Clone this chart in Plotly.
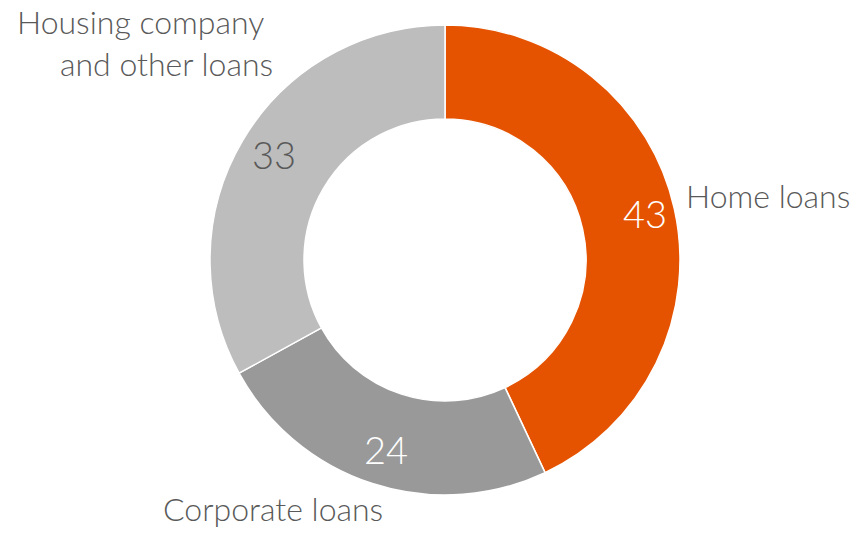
import math
import plotly.graph_objects as go

labels = ["Home loans", "Corporate loans", "Housing company and other loans"]
values = [43, 24, 33]
colors = ["#E55300", "#999999", "#BDBDBD"]
value_colors = ["#FFFFFF", "#FFFFFF", "#595959"]

W, H = 861, 533
cx, cy, r = 445, 260, 235
off = 8  # the page body margin pushes everything 8px right and down

fig = go.Figure()
fig.add_trace(go.Pie(
    labels=labels,
    values=values,
    hole=0.6,
    sort=False,
    direction="clockwise",
    rotation=0,
    marker=dict(colors=colors, line=dict(color="white", width=1.5)),
    textinfo="none",
    domain=dict(x=[(cx - off - r) / W, (cx - off + r) / W],
                y=[(H - cy + off - r) / H, (H - cy + off + r) / H]),
    showlegend=False,
    hoverinfo="label+value",
))

# values placed just outside the middle of the ring
total = sum(values)
start = 0
for v, c in zip(values, value_colors):
    mid = (start + v / 2) / total * 2 * math.pi
    start += v
    x = cx - 5 + 0.86 * r * math.sin(mid)
    y = cy - 11 - 0.86 * r * math.cos(mid)
    fig.add_annotation(x=x / W, y=1 - y / H, xref="paper", yref="paper", text=str(v),
                       showarrow=False, xanchor="center", yanchor="middle",
                       font=dict(family="Lato", size=38, color=c, weight=300))

txt = dict(family="Lato", size=32, color="#595959", weight=300)
anns = [
    ("Home loans", 684, 197, "left"),
    ("Corporate loans", 273, 509, "center"),
    ("Housing company", 140, 23, "center"),
    ("and other loans", 166, 64, "center"),
]
for t, x, y, xa in anns:
    fig.add_annotation(x=(x - off) / W, y=1 - (y - 9) / H, xref="paper", yref="paper", text=t,
                       showarrow=False, xanchor=xa, yanchor="middle", font=txt)

fig.update_layout(
    width=W, height=H,
    margin=dict(l=0, r=0, t=0, b=0),
    paper_bgcolor="white",
    plot_bgcolor="white",
)

fig.write_html("out.html")
